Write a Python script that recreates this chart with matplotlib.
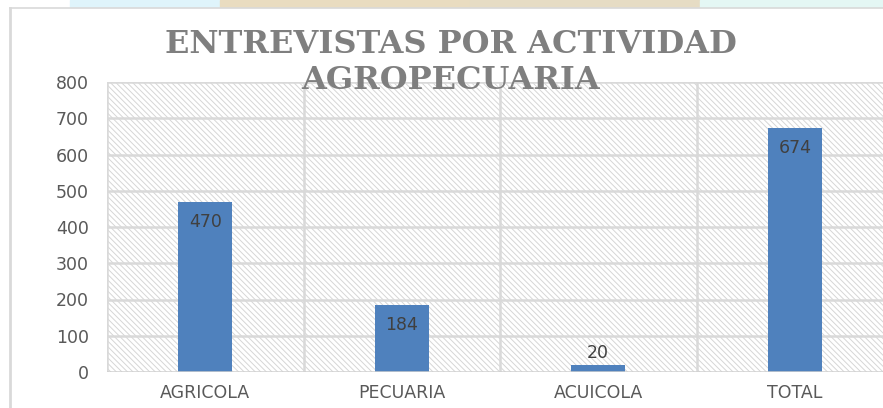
import matplotlib.pyplot as plt
from matplotlib.patches import Rectangle
from matplotlib.lines import Line2D

categorias = ['AGRICOLA', 'PECUARIA', 'ACUICOLA', 'TOTAL']
entrevistas = [470, 184, 20, 674]
y_ticks = [0, 100, 200, 300, 400, 500, 600, 700, 800]
titulo_1 = 'ENTREVISTAS POR ACTIVIDAD'
titulo_2 = 'AGROPECUARIA'

plt.rcParams['hatch.linewidth'] = 0.7

W, H = 883, 408
fig = plt.figure(figsize=(W / 100, H / 100), dpi=100)
fig.patch.set_facecolor('white')

# strip of the page background showing above the chart frame
strip = [(0, 70, '#ffffff'), (70, 220, '#dff4fb'), (220, 470, '#e9dcc0'),
         (470, 700, '#e6dcc4'), (700, 883, '#e4f7f4')]
for x0, x1, c in strip:
    fig.patches.append(Rectangle((x0 / W, 1 - 7 / H), (x1 - x0) / W, 7 / H,
                                 transform=fig.transFigure, color=c, zorder=0))
# chart frame
fig.lines.append(Line2D([10 / W, 1], [1 - 7.5 / H] * 2, transform=fig.transFigure,
                        color='#d9d9d9', lw=1.2))
fig.lines.append(Line2D([10 / W] * 2, [0, 1 - 7.5 / H], transform=fig.transFigure,
                        color='#d9d9d9', lw=2))

left, right, top, bottom = 107, 883, 82, 372
ax = fig.add_axes([left / W, 1 - bottom / H, (right - left) / W, (bottom - top) / H])
ax.set_facecolor('none')

cat_w = 196.5
x = list(range(len(categorias)))
ax.set_xlim(-0.5, -0.5 + (right - left) / cat_w)
ax.set_ylim(0, 800)

# hatched plot area
ax.add_patch(Rectangle((0, 0), 1, 1, transform=ax.transAxes, facecolor='white',
                       edgecolor='#d6d6d6', hatch='\\' * 6, lw=0, zorder=0))

for v in y_ticks[1:]:
    ax.axhline(v, color='#d9d9d9', lw=1.8, zorder=1)
for b in [-0.5, 0.5, 1.5, 2.5, 3.5]:
    ax.axvline(b, color='#d9d9d9', lw=1.8, zorder=1)
ax.axhline(0, color='#d0d0d0', lw=1.8, zorder=3)

bars = ax.bar(x, entrevistas, width=0.275, color='#4f81bd', zorder=2)
for xi, v in zip(x, entrevistas):
    if v > 60:
        ax.text(xi, v - 55, str(v), ha='center', va='center', fontsize=12.5,
                color='#404040', zorder=4)
    else:
        ax.text(xi, v + 8, str(v), ha='center', va='bottom', fontsize=12.5,
                color='#404040', zorder=4)

for s in ax.spines.values():
    s.set_visible(False)
ax.set_yticks(y_ticks)
ax.set_xticks(x)
ax.set_xticklabels(categorias)
ax.tick_params(length=0, colors='#595959', labelsize=12.5)
ax.tick_params(axis='y', pad=13)
ax.tick_params(axis='x', pad=9)

fig.text(451 / W, 1 - 53 / H, titulo_1, ha='center', va='baseline', fontsize=23,
         fontweight='bold', family='DejaVu Serif', color='#7f7f7f', zorder=5)
fig.text(451 / W, 1 - 89 / H, titulo_2, ha='center', va='baseline', fontsize=23,
         fontweight='bold', family='DejaVu Serif', color='#7f7f7f', zorder=5)

fig.savefig('out.png', dpi=100)
